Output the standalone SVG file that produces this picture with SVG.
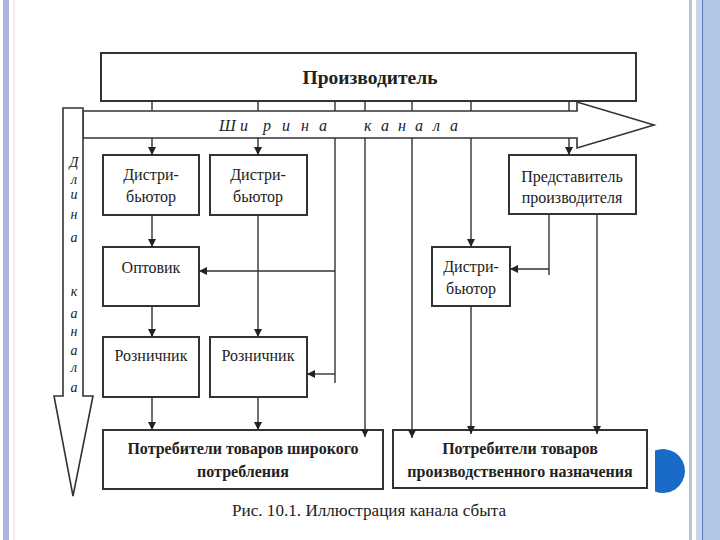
<svg xmlns="http://www.w3.org/2000/svg" width="720" height="540" viewBox="0 0 720 540">
<defs>
<style>
.box{fill:#fff;stroke:#333;stroke-width:2}
.ln{fill:none;stroke:#333;stroke-width:1.4}
.ar{fill:#fff;stroke:#333;stroke-width:1.6}
.t{font-family:"Liberation Serif","Times New Roman",serif;font-size:16px;fill:#222;text-anchor:middle}
.b{font-weight:bold}
.it{font-style:italic;font-size:16px;text-anchor:start}
</style>
<marker id="ah" markerUnits="userSpaceOnUse" markerWidth="8" markerHeight="8" refX="8" refY="4" orient="auto">
<path d="M0,0 L8,4 L0,8 z" fill="#222"/>
</marker>
</defs>
<rect width="720" height="540" fill="#fff"/>
<g id="frame">
<rect x="3" y="0" width="6" height="540" fill="#a9b4df"/>
<rect x="13" y="0" width="2" height="540" fill="#f6eaf6"/>
<rect x="689" y="0" width="3" height="540" fill="#b9c3d3"/>
<rect x="696" y="0" width="6" height="540" fill="#c7d4ea"/>
<rect x="702" y="0" width="1.5" height="540" fill="#5a7fc0"/>
<rect x="703.5" y="0" width="17" height="540" fill="#b2c5e4"/>
<path d="M655,450.5 A22,22 0 1 1 655,491.5 Z" fill="#1a6bc8"/>
</g>
<g id="width-arrow">
<polygon class="ar" points="83,111 577,111 577,102 654,125 577,148 577,138 83,138"/>
<text class="t it" y="131" x="219 240 263 282 301 319 364 381 398 415 433 450">Ширинаканала</text>
</g>
<g id="length-arrow">
<polygon class="ar" points="63,108 83,108 83,396 93,396 73,496 54,396 63,396"/>
<g class="t it" style="font-size:14px;text-anchor:middle">
<text x="74" y="167">Д</text><text x="74" y="184">л</text><text x="74" y="199">и</text><text x="74" y="219">н</text><text x="74" y="242">а</text>
<text x="74" y="296">к</text><text x="74" y="318">а</text><text x="74" y="336">н</text><text x="74" y="355">а</text><text x="74" y="372">л</text><text x="74" y="392">а</text>
</g>
</g>
<g id="producer">
<rect class="box" x="101" y="53" width="535" height="48"/>
<text class="t b" x="370" y="84" style="font-size:19px" textLength="135" lengthAdjust="spacingAndGlyphs">Производитель</text>
</g>
<g id="distributor1">
<rect class="box" x="103" y="155" width="96" height="60"/>
<text class="t" x="151" y="180">Дистри-</text>
<text class="t" x="151" y="202">бьютор</text>
</g>
<g id="distributor2">
<rect class="box" x="210" y="155" width="97" height="60"/>
<text class="t" x="258" y="180">Дистри-</text>
<text class="t" x="258" y="202">бьютор</text>
</g>
<g id="representative">
<rect class="box" x="509" y="155" width="127" height="59"/>
<text class="t" x="572" y="182">Представитель</text>
<text class="t" x="572" y="203">производителя</text>
</g>
<g id="wholesaler">
<rect class="box" x="103" y="247" width="96" height="59"/>
<text class="t" x="151" y="273">Оптовик</text>
</g>
<g id="distributor3">
<rect class="box" x="432" y="247" width="78" height="59"/>
<text class="t" x="471" y="272">Дистри-</text>
<text class="t" x="471" y="294">бьютор</text>
</g>
<g id="retailer1">
<rect class="box" x="103" y="337" width="96" height="60"/>
<text class="t" x="151" y="361">Розничник</text>
</g>
<g id="retailer2">
<rect class="box" x="210" y="337" width="97" height="60"/>
<text class="t" x="258" y="361">Розничник</text>
</g>
<g id="consumers1">
<rect class="box" x="103" y="430" width="280" height="59"/>
<text class="t b" x="243" y="454">Потребители товаров широкого</text>
<text class="t b" x="243" y="477">потребления</text>
</g>
<g id="consumers2">
<rect class="box" x="393" y="430" width="254" height="58"/>
<text class="t b" x="520" y="454">Потребители товаров</text>
<text class="t b" x="520" y="477">производственного назначения</text>
</g>
<g id="connectors">
<path class="ln" d="M152,101V111M258,101V111M335,101V111M365,101V111M412,101V111M471,101V111M569,101V111"/>
<path class="ln" d="M152,138V155" marker-end="url(#ah)"/>
<path class="ln" d="M258,138V155" marker-end="url(#ah)"/>
<path class="ln" d="M569,138V155" marker-end="url(#ah)"/>
<path class="ln" d="M471,138V247" marker-end="url(#ah)"/>
<path class="ln" d="M365,138V437" marker-end="url(#ah)"/>
<path class="ln" d="M412,138V438" marker-end="url(#ah)"/>
<path class="ln" d="M335,138V383"/>
<path class="ln" d="M335,271H199" marker-end="url(#ah)"/>
<path class="ln" d="M335,374H307" marker-end="url(#ah)"/>
<path class="ln" d="M152,215V247" marker-end="url(#ah)"/>
<path class="ln" d="M152,306V337" marker-end="url(#ah)"/>
<path class="ln" d="M258,215V337" marker-end="url(#ah)"/>
<path class="ln" d="M152,397V430" marker-end="url(#ah)"/>
<path class="ln" d="M258,397V430" marker-end="url(#ah)"/>
<path class="ln" d="M549,214V275"/>
<path class="ln" d="M549,269H510" marker-end="url(#ah)"/>
<path class="ln" d="M597,214V434" marker-end="url(#ah)"/>
<path class="ln" d="M471,306V434" marker-end="url(#ah)"/>
</g>
<text class="t" x="369" y="516" textLength="274" lengthAdjust="spacingAndGlyphs">Рис. 10.1. Иллюстрация канала сбыта</text>
</svg>
